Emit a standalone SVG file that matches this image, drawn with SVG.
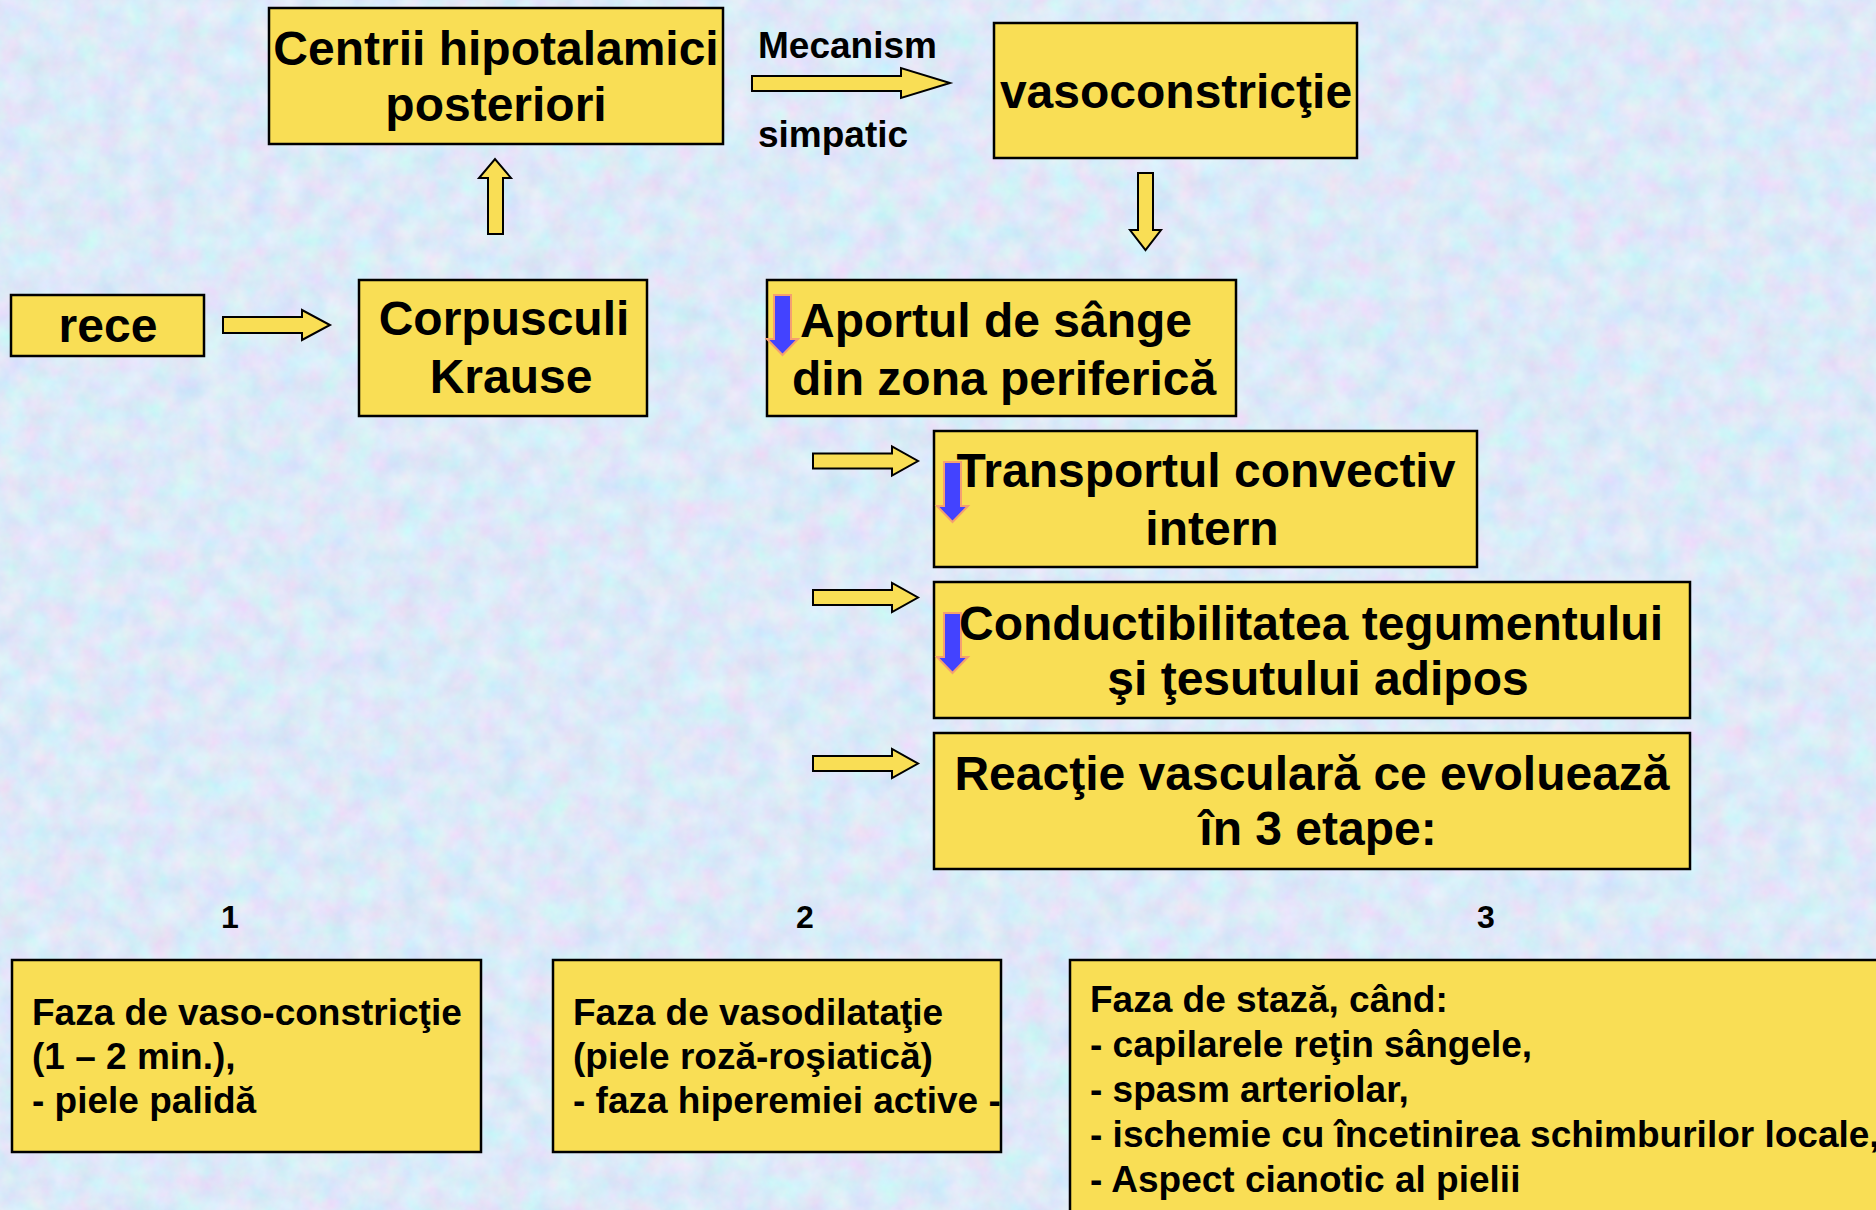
<svg xmlns="http://www.w3.org/2000/svg" width="1876" height="1210" viewBox="0 0 1876 1210">
<defs>
<style>
.box{fill:#F9DE55;stroke:#000;stroke-width:2.5}
.arr{fill:#F9DE55;stroke:#000;stroke-width:2}
.blue{fill:#4343FF;stroke:#F4A070;stroke-width:2}
.t48{font-family:"Liberation Sans",Arial,sans-serif;font-weight:bold;font-size:48px;fill:#000}
.t37{font-family:"Liberation Sans",Arial,sans-serif;font-weight:bold;font-size:37px;fill:#000}
.t36{font-family:"Liberation Sans",Arial,sans-serif;font-weight:bold;font-size:37px;fill:#000}
.t32{font-family:"Liberation Sans",Arial,sans-serif;font-weight:bold;font-size:32px;fill:#000}
.c{text-anchor:middle}
</style>
<filter id="tex" x="0" y="0" width="100%" height="100%" filterUnits="userSpaceOnUse">
<feTurbulence type="fractalNoise" baseFrequency="0.04" numOctaves="4" seed="7"/>
<feColorMatrix type="matrix" values="0.38 0 0 0 0.53  -0.12 0.26 0 0 0.75  0 0 0.14 0 0.87  0 0 0 0 1"/>
</filter>
<path id="bdown" d="M7,0 H24 V44 H31 L15.5,60 L0,44 H7 Z"/>
</defs>
<rect x="0" y="0" width="1876" height="1210" fill="#B9CDF0"/>
<rect x="0" y="0" width="1876" height="1210" filter="url(#tex)"/>

<g id="connectors">
<path class="arr" d="M752,76 H901 V68 L950,83 L901,98 V91 H752 Z"/>
<path class="arr" d="M223,317 H302 V310 L330,325 L302,340 V333 H223 Z"/>
<path class="arr" d="M488,234 V178 H479 L495,159 L511,178 H503 V234 Z"/>
<path class="arr" d="M1138,173 H1153 V230 H1161 L1145.5,250 L1130,230 H1138 Z"/>
<path class="arr" d="M813,453.5 H892 V446.5 L918,461 L892,475.5 V468.5 H813 Z"/>
<path class="arr" d="M813,590 H892 V583 L918,597.5 L892,612 V605 H813 Z"/>
<path class="arr" d="M813,756 H892 V749 L918,763.5 L892,778 V771 H813 Z"/>
</g>
<g id="lbl-mecanism">
<text class="t36" x="758" y="58">Mecanism</text>
<text class="t36" x="758" y="147">simpatic</text>
</g>

<g id="centrii">
<rect class="box" x="269" y="8" width="454" height="136"/>
<text class="t48 c" x="496" y="65">Centrii hipotalamici</text>
<text class="t48 c" x="496" y="121">posteriori</text>
</g>
<g id="vasoconstrictie">
<rect class="box" x="994" y="23" width="363" height="135"/>
<text class="t48 c" x="1176" y="108">vasoconstricţie</text>
</g>
<g id="rece">
<rect class="box" x="11" y="295" width="193" height="61"/>
<text class="t48 c" x="108" y="342">rece</text>
</g>
<g id="corpusculi">
<rect class="box" x="359" y="280" width="288" height="136"/>
<text class="t48 c" x="504" y="335">Corpusculi</text>
<text class="t48 c" x="511" y="393">Krause</text>
</g>
<g id="aportul">
<rect class="box" x="767" y="280" width="469" height="136"/>
<use href="#bdown" class="blue" x="767" y="295"/>
<text class="t48" x="800" y="337">Aportul de sânge</text>
<text class="t48" x="792" y="395">din zona periferică</text>
</g>
<g id="transportul">
<rect class="box" x="934" y="431" width="543" height="136"/>
<use href="#bdown" class="blue" x="937" y="462"/>
<text class="t48 c" x="1206" y="487">Transportul convectiv</text>
<text class="t48 c" x="1212" y="545">intern</text>
</g>
<g id="conductibilitatea">
<rect class="box" x="934" y="582" width="756" height="136"/>
<use href="#bdown" class="blue" x="937" y="613"/>
<text class="t48 c" x="1311" y="640">Conductibilitatea tegumentului</text>
<text class="t48 c" x="1318" y="695">şi ţesutului adipos</text>
</g>
<g id="reactie">
<rect class="box" x="934" y="733" width="756" height="136"/>
<text class="t48 c" x="1312" y="790">Reacţie vasculară ce evoluează</text>
<text class="t48 c" x="1318" y="845">în 3 etape:</text>
</g>

<g id="numbers">
<text class="t32 c" x="230" y="928">1</text>
<text class="t32 c" x="805" y="928">2</text>
<text class="t32 c" x="1486" y="928">3</text>
</g>
<g id="faza1">
<rect class="box" x="12" y="960" width="469" height="192"/>
<text class="t37" x="32" y="1025">Faza de vaso-constricţie</text>
<text class="t37" x="32" y="1069">(1 – 2 min.),</text>
<text class="t37" x="32" y="1113">- piele palidă</text>
</g>
<g id="faza2">
<rect class="box" x="553" y="960" width="448" height="192"/>
<text class="t37" x="573" y="1025">Faza de vasodilataţie</text>
<text class="t37" x="573" y="1069">(piele roză-roşiatică)</text>
<text class="t37" x="573" y="1113">- faza hiperemiei active -</text>
</g>
<g id="faza3">
<rect class="box" x="1070" y="960" width="830" height="280"/>
<text class="t37" x="1090" y="1012">Faza de stază, când:</text>
<text class="t37" x="1090" y="1057">- capilarele reţin sângele,</text>
<text class="t37" x="1090" y="1102">- spasm arteriolar,</text>
<text class="t37" x="1090" y="1147">- ischemie cu încetinirea schimburilor locale,</text>
<text class="t37" x="1090" y="1192">- Aspect cianotic al pielii</text>
</g>
</svg>
